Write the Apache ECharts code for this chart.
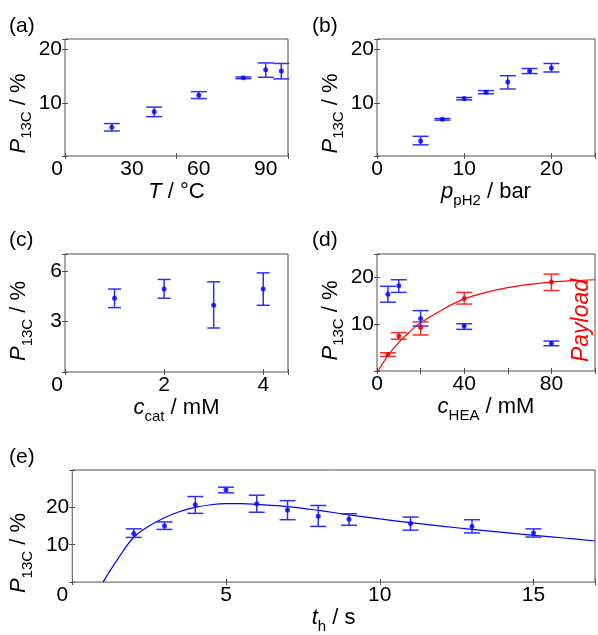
<!DOCTYPE html>
<html><head><meta charset="utf-8">
<script src="https://cdn.jsdelivr.net/npm/echarts@6/dist/echarts.min.js"></script>
<style>html,body{margin:0;padding:0;background:#fff}#c{width:598px;height:635px}</style>
</head><body><div id="c"></div>
<script>
// ---------- data ----------
// (a) temperature
const aT   = [21, 40, 60, 80, 90, 97];
const aP   = [5.4, 8.3, 11.4, 14.7, 16.2, 16.0];
const aLo  = [4.7, 7.4, 10.8, 14.55, 14.8, 14.5];
const aHi  = [6.1, 9.2, 12.1, 14.85, 17.5, 17.4];
const aXTicks = [0, 30, 60, 90];
const aYTicks = [10, 20];
// (b) pH2 pressure
const bPr  = [5, 7.5, 10, 12.5, 15, 17.5, 20];
const bP   = [2.8, 6.9, 10.8, 12.0, 13.9, 16.0, 16.55];
const bLo  = [2.1, 6.75, 10.55, 11.7, 12.6, 15.5, 15.8];
const bHi  = [3.7, 7.05, 11.0, 12.3, 15.1, 16.45, 17.4];
const bXTicks = [0, 10, 20];
const bYTicks = [10, 20];
// (c) catalyst concentration
const cCat = [1, 2, 3, 4];
const cP   = [4.38, 4.92, 3.96, 4.92];
const cLo  = [3.82, 4.38, 2.61, 3.96];
const cHi  = [4.92, 5.49, 5.35, 5.88];
const cXTicks = [0, 2, 4];
const cYTicks = [3, 6];
// (d) HEA concentration
const dHea   = [5, 10, 20, 40, 80];
const dBlue  = [16.4, 18.2, 11.2, 9.6, 5.9];
const dBlueLo= [14.7, 16.8, 9.6, 8.9, 5.4];
const dBlueHi= [18.1, 19.5, 12.9, 10.1, 6.4];
const dRed   = [3.5, 7.5, 9.3, 15.5, 19.0];
const dRedLo = [3.1, 6.8, 7.7, 14.3, 17.2];
const dRedHi = [3.9, 8.2, 10.5, 16.8, 20.7];
const dFitX  = [0.5, 5, 10, 15, 20, 30, 40, 50, 60, 70, 80, 90, 100];
const dFitY  = [0, 3.3, 6.1, 8.4, 10.3, 13.1, 15.4, 16.8, 17.8, 18.5, 19.0, 19.3, 19.5];
const dXTicks = [0, 40, 80];
const dYTicks = [10, 20];
// (e) hold time
const eT   = [2, 3, 4, 5, 6, 7, 8, 9, 11, 13, 15];
const eP   = [13.0, 15.0, 20.7, 24.7, 21.0, 19.3, 17.65, 16.8, 15.7, 14.85, 13.15];
const eLo  = [11.96, 14.1, 18.4, 23.9, 18.7, 16.7, 14.9, 15.2, 13.9, 13.15, 12.05];
const eHi  = [14.25, 16.1, 22.9, 25.4, 23.25, 21.8, 20.5, 18.3, 17.4, 16.7, 14.25];
const eFitX = [1.0, 1.5, 2, 2.5, 3, 3.5, 4, 4.5, 5, 5.5, 6, 7, 8, 9, 10, 11, 12, 13, 14, 15, 16, 17];
const eFitY = [0, 6.4, 12.0, 15.0, 17.2, 18.9, 20.0, 20.7, 21.0, 21.0, 20.8, 20.2, 19.2, 18.0, 16.9, 15.9, 15.0, 14.1, 13.3, 12.5, 11.8, 11.0];
const eXTicks = [0, 5, 10, 15];
const eYTicks = [10, 20];

// ---------- styling helpers ----------
const FONT = '"Liberation Sans", Arial, sans-serif';
const FRAME = '#505050';
const BLUE = '#0000ff', BLUE_EB = '#2f2fff';
const RED = '#ff0000', RED_EB = '#ff2a2a';
const TICK_FS = 21, NAME_FS = 22, SUB_FS = 15;

const nameRich = {
  i: {fontStyle: 'italic', fontSize: NAME_FS, fontFamily: FONT, color: '#000', verticalAlign: 'bottom', padding: [0, 0, 5, 0]},
  n: {fontSize: NAME_FS, fontFamily: FONT, color: '#000', verticalAlign: 'bottom', padding: [0, 0, 5, 0]},
  s: {fontSize: SUB_FS, fontFamily: FONT, color: '#000', verticalAlign: 'bottom'}
};

function labelFmt(list, zeroShift) {
  return function (v) {
    const r = Math.round(v * 1e6) / 1e6;
    if (list.indexOf(r) < 0) return '';
    if (r === 0 && zeroShift) return '{z|0}';
    return String(r);
  };
}

function xAxesFor(gi, min, max, interval, labels, zeroShift, name, nameGap, tickInterval) {
  const common = {gridIndex: gi, type: 'value', min: min, max: max, splitLine: {show: false}, axisLine: {show: false}};
  const bottom = Object.assign({}, common, {
    position: 'bottom', interval: interval,
    axisTick: tickInterval ? {show: false} : {show: true, inside: true, length: 3, lineStyle: {color: FRAME}},
    axisLabel: {show: true, margin: 3, fontSize: TICK_FS, fontFamily: FONT, color: '#000',
      formatter: labelFmt(labels, zeroShift), showMinLabel: true, showMaxLabel: true,
      rich: {z: {fontSize: TICK_FS, fontFamily: FONT, color: '#000', padding: [0, zeroShift * 2, 0, 0]}}},
    name: name, nameLocation: 'middle', nameGap: nameGap, nameTextStyle: {rich: nameRich}
  });
  const ti = tickInterval || interval;
  const top = Object.assign({}, common, {
    position: 'top', interval: ti,
    axisTick: {show: true, inside: true, length: 3, lineStyle: {color: FRAME}},
    axisLabel: {show: false}
  });
  const res = [bottom, top];
  if (tickInterval) {
    res.push(Object.assign({}, common, {
      position: 'bottom', offset: 0, interval: ti,
      axisTick: {show: true, inside: true, length: 3, lineStyle: {color: FRAME}},
      axisLabel: {show: false}
    }));
  }
  return res;
}

function yAxesFor(gi, min, max, interval, labels, name, nameGap, shift, rightName) {
  const common = {gridIndex: gi, type: 'value', min: min, max: max, interval: interval, splitLine: {show: false}, axisLine: {show: false},
    axisTick: {show: true, inside: true, length: 3, lineStyle: {color: FRAME}}};
  const left = Object.assign({}, common, {
    position: 'left',
    axisLabel: {show: true, margin: 3, fontSize: TICK_FS, fontFamily: FONT, color: '#000', formatter: labelFmt(labels, 0)},
    name: name, nameLocation: 'middle', nameGap: nameGap, nameRotate: 90,
    nameTextStyle: {rich: nameRich, padding: [0, shift * 2, 0, 0]}
  });
  const right = Object.assign({}, common, {position: 'right', axisLabel: {show: false}});
  if (rightName) Object.assign(right, rightName);
  return [left, right];
}

const yName = '{i|P}{s|13C}{n| / %}';

// ---------- grids ----------
const grids = [
  {left: 65, top: 39, width: 223, height: 117},
  {left: 377, top: 39, width: 220, height: 117},
  {left: 65, top: 254, width: 223, height: 118},
  {left: 377, top: 254, width: 220, height: 117},
  {left: 66, top: 470, width: 531, height: 117}
].map(g => Object.assign(g, {show: true, borderColor: FRAME, borderWidth: 1, backgroundColor: 'transparent'}));

const xAxis = [], yAxis = [];
function pushX(arr) { const start = xAxis.length; arr.forEach(a => xAxis.push(a)); return start; }
function pushY(arr) { const start = yAxis.length; arr.forEach(a => yAxis.push(a)); return start; }

const xa = pushX(xAxesFor(0, 0, 100, 30, aXTicks, 8, '{i|T}{n| / °C}', 23, 50));
const ya = pushY(yAxesFor(0, 0, 22, 10, aYTicks, yName, 30, 16));
const xb = pushX(xAxesFor(1, 0, 25, 10, bXTicks, 0, '{i|p}{s|pH2}{n| / bar}', 23));
const yb = pushY(yAxesFor(1, 0, 22, 10, bYTicks, yName, 30, 16));
const xc = pushX(xAxesFor(2, 0, 4.5, 2, cXTicks, 8, '{i|c}{s|cat}{n| / mM}', 23));
const yc = pushY(yAxesFor(2, 0, 7, 3, cYTicks, yName, 30, 8));
const xd = pushX(xAxesFor(3, 0, 100, 20, dXTicks, 0, '{i|c}{s|HEA}{n| / mM}', 23));
const yd = pushY(yAxesFor(3, 0, 25, 10, dYTicks, yName, 30, 8, {
  name: 'Payload', nameLocation: 'middle', nameRotate: 90, nameGap: -25,
  nameTextStyle: {fontSize: 23, fontStyle: 'italic', fontFamily: FONT, color: RED, padding: [0, 16, 0, 0]}
}));
const xe = pushX(xAxesFor(4, 0, 17, 5, eXTicks, 10, '{i|t}{s|h}{n| / s}', 23));
const ye = pushY(yAxesFor(4, 0, 30, 10, eYTicks, yName, 30, 27));

// ---------- series helpers ----------
function errSeries(xi, yi, xs, lo, hi, color, cap) {
  return {
    type: 'custom', xAxisIndex: xi, yAxisIndex: yi, silent: true, z: 2,
    data: xs.map((x, i) => [x, lo[i], hi[i]]),
    encode: {x: 0, y: [1, 2]},
    renderItem: function (params, api) {
      const x = api.value(0);
      const a = api.coord([x, api.value(1)]);
      const b = api.coord([x, api.value(2)]);
      const st = {stroke: color, lineWidth: 1.5};
      return {type: 'group', children: [
        {type: 'line', shape: {x1: a[0], y1: a[1], x2: b[0], y2: b[1]}, style: st},
        {type: 'line', shape: {x1: a[0] - cap, y1: a[1], x2: a[0] + cap, y2: a[1]}, style: st},
        {type: 'line', shape: {x1: b[0] - cap, y1: b[1], x2: b[0] + cap, y2: b[1]}, style: st}
      ]};
    }
  };
}
function ptSeries(xi, yi, xs, ys, color) {
  return {type: 'scatter', xAxisIndex: xi, yAxisIndex: yi, symbol: 'circle', symbolSize: 5, z: 3,
    itemStyle: {color: color}, data: xs.map((x, i) => [x, ys[i]])};
}
function fitSeries(xi, yi, xs, ys, color) {
  return {type: 'line', xAxisIndex: xi, yAxisIndex: yi, showSymbol: false, symbol: 'none', smooth: 0.4, z: 1,
    lineStyle: {color: color, width: 1.2}, data: xs.map((x, i) => [x, ys[i]])};
}

const series = [
  errSeries(xa, ya, aT, aLo, aHi, BLUE_EB, 8), ptSeries(xa, ya, aT, aP, BLUE),
  errSeries(xb, yb, bPr, bLo, bHi, BLUE_EB, 8), ptSeries(xb, yb, bPr, bP, BLUE),
  errSeries(xc, yc, cCat, cLo, cHi, BLUE_EB, 6.5), ptSeries(xc, yc, cCat, cP, BLUE),
  fitSeries(xd, yd, dFitX, dFitY, RED),
  errSeries(xd, yd, dHea, dRedLo, dRedHi, RED_EB, 8), ptSeries(xd, yd, dHea, dRed, '#e00000'),
  errSeries(xd, yd, dHea, dBlueLo, dBlueHi, BLUE_EB, 8), ptSeries(xd, yd, dHea, dBlue, BLUE),
  fitSeries(xe, ye, eFitX, eFitY, BLUE),
  errSeries(xe, ye, eT, eLo, eHi, BLUE_EB, 8), ptSeries(xe, ye, eT, eP, BLUE)
];

const tStyle = {fontSize: 21, fontWeight: 'normal', fontFamily: FONT, color: '#000'};
const titles = [
  {text: '(a)', left: 9, top: 16}, {text: '(b)', left: 312, top: 16},
  {text: '(c)', left: 9, top: 230}, {text: '(d)', left: 312, top: 230},
  {text: '(e)', left: 9, top: 447}
].map(t => Object.assign(t, {padding: 0, textStyle: tStyle}));

const chart = echarts.init(document.getElementById('c'), null, {renderer: 'canvas'});
chart.setOption({
  animation: false,
  backgroundColor: '#fff',
  title: titles,
  grid: grids,
  xAxis: xAxis,
  yAxis: yAxis,
  series: series
});
</script>
</body></html>
